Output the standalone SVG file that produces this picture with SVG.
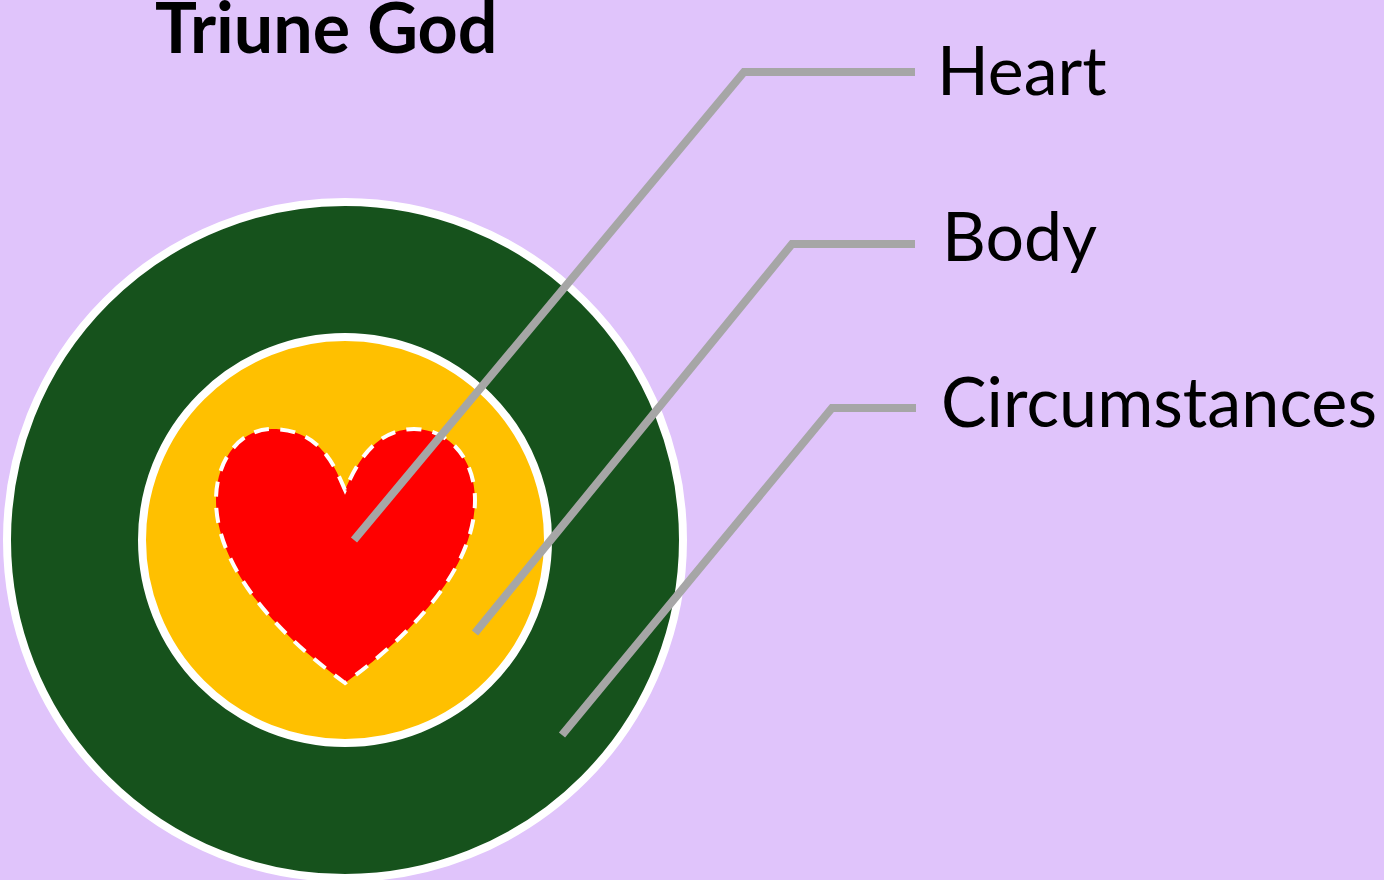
<svg xmlns="http://www.w3.org/2000/svg" width="1384" height="880" viewBox="0 0 1384 880">
<style>
.t{font-family:Lato,"Open Sans","Liberation Sans",sans-serif;fill:#000;font-size:69px}
.s{font-size:68px}
.c{fill:none;stroke:#a6a6a6;stroke-width:8}
.r{stroke:#fff;stroke-width:8}
</style>
<rect width="1384" height="880" fill="#e0c4fb"/>
<text class="t" x="155" y="53" style="font-weight:700;font-size:70px">Triune God</text>
<g id="circumstances-ring"><circle class="r" cx="345" cy="540" r="338" fill="#16521c"/></g>
<g id="body-ring"><circle class="r" cx="345" cy="540" r="203" fill="#ffc000"/></g>
<g id="heart"><path d="M345 490C336 470 322 429 272 429C240 429 216 460 216 500C216 560 265 625 345 683C425 625 475 560 475 500C475 460 450 429 414 429C372 429 354 470 345 490Z" pathLength="1000" fill="#f00" stroke="#fff" stroke-width="4" stroke-dasharray="17.3 13"/></g>
<g id="connectors">
<path class="c" d="M354 540L744 72H915"/>
<path class="c" d="M475 633L792 244H915"/>
<path class="c" d="M562 735L832 408H916"/>
</g>
<g id="label-heart"><text class="t s" x="937" y="95">Heart</text></g>
<g id="label-body"><text class="t s" x="942" y="261">Body</text></g>
<g id="label-circumstances"><text class="t" x="941" y="427" textLength="436" lengthAdjust="spacingAndGlyphs">Circumstances</text></g>
</svg>
